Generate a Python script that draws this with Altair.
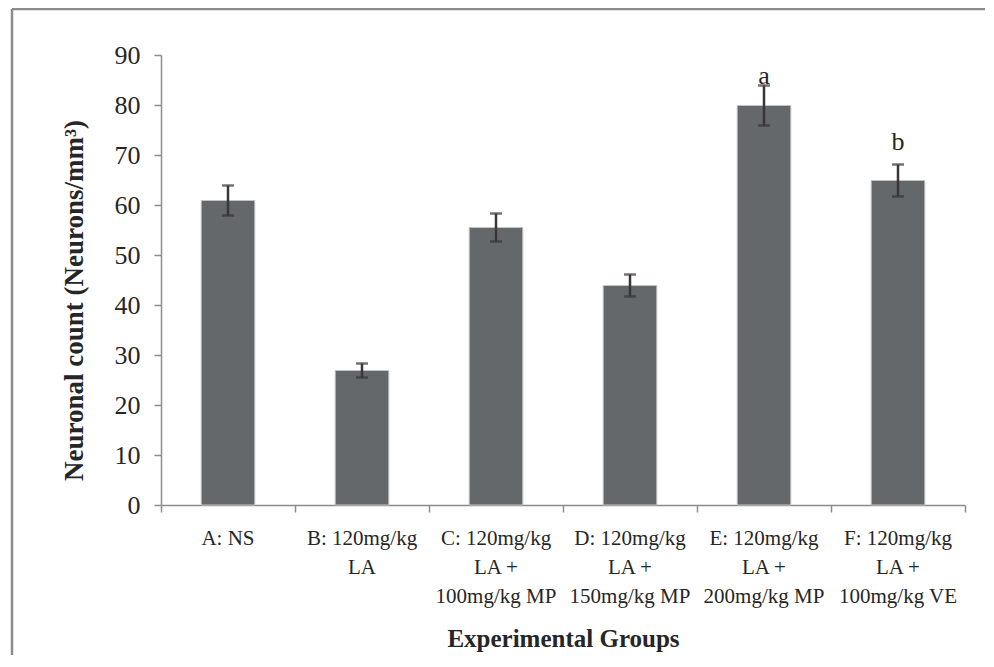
import altair as alt
import pandas as pd

groups = [
    "A: NS",
    "B: 120mg/kg\nLA",
    "C: 120mg/kg\nLA +\n100mg/kg MP",
    "D: 120mg/kg\nLA +\n150mg/kg MP",
    "E: 120mg/kg\nLA +\n200mg/kg MP",
    "F: 120mg/kg\nLA +\n100mg/kg VE",
]
means = [60.9, 26.9, 55.5, 43.9, 79.9, 64.9]
errors = [3.0, 1.4, 2.8, 2.2, 4.0, 3.2]
letters = ["", "", "", "", "a", "b"]
boundaries = [0, 1, 2, 3, 4, 5, 6]
y_ticks = [0, 10, 20, 30, 40, 50, 60, 70, 80, 90]

df = pd.DataFrame({"group": groups, "mean": means, "err": errors, "letter": letters})
df["lo"] = df["mean"] - df["err"]
df["hi"] = df["mean"] + df["err"]

FONT = "Liberation Serif"
GRAY = "#8c8c8c"
TXT = "#262626"
ERR = "#3a3538"

xscale = alt.Scale(domain=groups, paddingInner=0.6, paddingOuter=0.3)
yscale = alt.Scale(domain=[0, 90], nice=False)

x_axis = alt.Axis(
    title="Experimental Groups",
    labelAngle=0,
    labelExpr="split(datum.label, '\\n')",
    labelFont=FONT, labelFontSize=21, labelColor=TXT, labelLineHeight=29,
    labelPadding=22, labelBaseline="top",
    ticks=False, domainColor=GRAY, domainWidth=1.5,
    titleFont=FONT, titleFontSize=25, titleFontWeight="bold", titleColor=TXT,
    titlePadding=20,
)
y_axis = alt.Axis(
    title="Neuronal count (Neurons/mm³)",
    values=y_ticks, grid=False,
    labelFont=FONT, labelFontSize=26, labelColor=TXT, labelPadding=14,
    tickSize=7, tickColor=GRAY, tickWidth=1.5,
    domainColor=GRAY, domainWidth=1.5,
    titleFont=FONT, titleFontSize=27, titleFontWeight="bold", titleColor=TXT,
    titlePadding=26, titleY=245,
)

base = alt.Chart(df)
xenc = alt.X("group:N", sort=groups, scale=xscale, axis=x_axis)

bars = base.mark_bar(color="#65686b", stroke="#c4c4c4", strokeWidth=1).encode(
    x=xenc, y=alt.Y("mean:Q", scale=yscale, axis=y_axis)
)
rules = base.mark_rule(color=ERR, strokeWidth=2.5).encode(
    x=xenc, y=alt.Y("lo:Q", scale=yscale, axis=y_axis), y2="hi:Q"
)
cap_lo = base.mark_tick(color=ERR, thickness=2.5, size=12, orient="horizontal").encode(
    x=xenc, y=alt.Y("lo:Q", scale=yscale, axis=y_axis)
)
cap_hi = base.mark_tick(color=ERR, thickness=2.5, size=12, orient="horizontal").encode(
    x=xenc, y=alt.Y("hi:Q", scale=yscale, axis=y_axis)
)
txt_a = base.transform_filter("datum.letter == 'a'").mark_text(
    font=FONT, fontSize=26, color=TXT, baseline="alphabetic", dy=-2
).encode(x=xenc, y=alt.Y("hi:Q", scale=yscale, axis=y_axis), text="letter:N")
txt_b = base.transform_filter("datum.letter == 'b'").mark_text(
    font=FONT, fontSize=26, color=TXT, baseline="alphabetic", dy=-15
).encode(x=xenc, y=alt.Y("hi:Q", scale=yscale, axis=y_axis), text="letter:N")

inner = alt.layer(bars, rules, cap_lo, cap_hi, txt_a, txt_b)

bdf = pd.DataFrame({"b": boundaries})
btick = alt.Chart(bdf).mark_point(opacity=0).encode(
    x=alt.X(
        "b:Q",
        scale=alt.Scale(domain=[0, 6], nice=False, zero=False),
        axis=alt.Axis(
            orient="bottom", values=boundaries, labels=False, domain=False,
            grid=False, title=None, tickSize=7, tickColor=GRAY, tickWidth=1.5,
        ),
    )
)

one = pd.DataFrame({"k": [0]})
border_top = alt.Chart(one).mark_rule(color=GRAY, strokeWidth=2.5).encode(
    x=alt.value(-149), x2=alt.value(840), y=alt.value(-46)
)
border_left = alt.Chart(one).mark_rule(color=GRAY, strokeWidth=2.5).encode(
    x=alt.value(-149), y=alt.value(-46), y2=alt.value(620)
)

chart = (
    alt.layer(inner, btick, border_top, border_left)
    .resolve_scale(x="independent")
    .properties(
        width=804,
        height=450,
        padding={"left": 153, "top": 47, "right": 20, "bottom": 150},
        autosize=alt.AutoSizeParams(type="none"),
        background="white",
    )
    .configure_view(stroke=None)
)

chart.save("out.html", embed_options={"renderer": "svg", "actions": False})
